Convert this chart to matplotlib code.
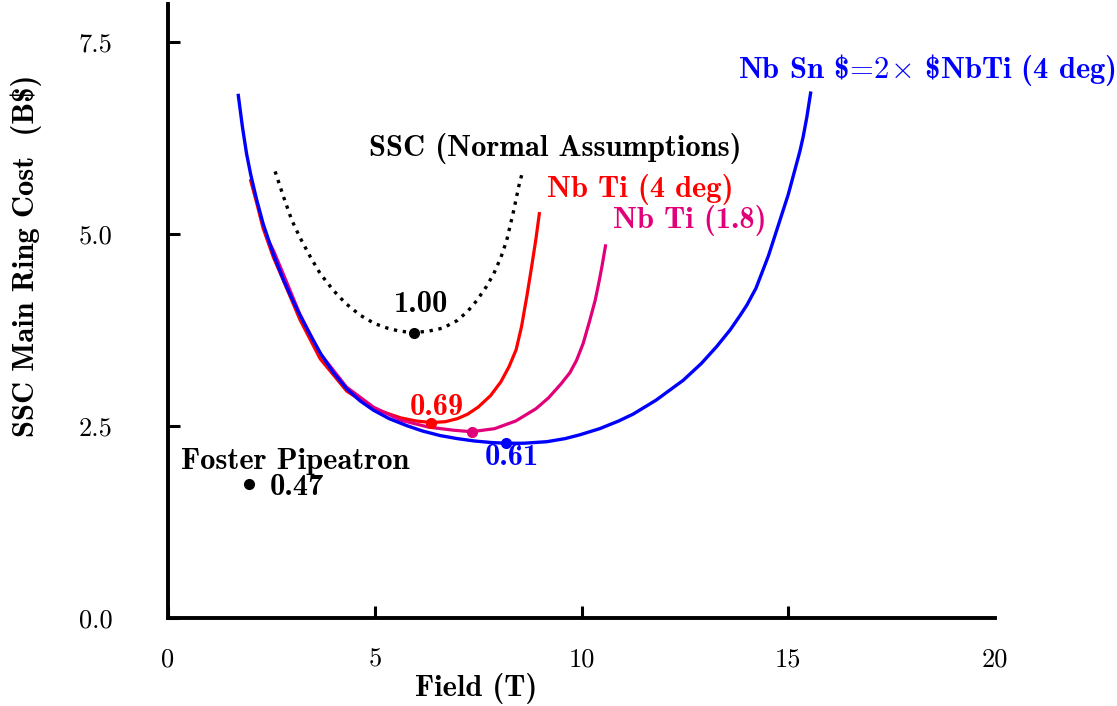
import matplotlib
matplotlib.use("Agg")
import matplotlib.pyplot as plt

plt.rcParams['mathtext.fontset'] = 'cm'
plt.rcParams['axes.formatter.use_mathtext'] = True

# Nb3Sn, cost = 2 x NbTi (4 deg)
nbsn_x = [1.70, 1.80, 1.90, 2.00, 2.14, 2.30, 2.55, 2.79, 3.00, 3.19, 3.45, 3.70, 4.00,
          4.32, 4.65, 4.97, 5.35, 5.77, 6.15, 6.58, 7.00, 7.40, 7.80, 8.17, 8.60, 9.16,
          9.60, 9.96, 10.44, 10.90, 11.25, 11.80, 12.46, 12.90, 13.27, 13.60, 13.83,
          14.00, 14.22, 14.52, 14.82, 15.00, 15.16, 15.28, 15.36, 15.45, 15.54]
nbsn_y = [6.81, 6.40, 6.05, 5.78, 5.46, 5.14, 4.74, 4.41, 4.16, 3.95, 3.68, 3.44, 3.20,
          2.99, 2.83, 2.71, 2.60, 2.51, 2.44, 2.38, 2.34, 2.31, 2.29, 2.28, 2.28, 2.30,
          2.34, 2.39, 2.47, 2.57, 2.66, 2.84, 3.10, 3.32, 3.54, 3.76, 3.94,
          4.08, 4.30, 4.72, 5.22, 5.52, 5.84, 6.08, 6.27, 6.53, 6.84]

# NbTi at 4 deg
nbti4_x = [2.00, 2.14, 2.30, 2.55, 2.79, 3.19, 3.68, 4.32, 4.97, 5.63, 6.00, 6.36,
           6.70, 7.00, 7.25, 7.50, 7.80, 8.05, 8.25, 8.42, 8.55, 8.68, 8.80, 8.90, 8.98]
nbti4_y = [5.70, 5.42, 5.08, 4.70, 4.40, 3.89, 3.38, 2.96, 2.73, 2.61, 2.57, 2.55,
           2.56, 2.60, 2.66, 2.75, 2.90, 3.08, 3.28, 3.50, 3.80, 4.20, 4.60, 4.95, 5.27]

# NbTi at 1.8 deg
nbti18_x = [2.40, 2.55, 2.79, 3.19, 3.68, 4.32, 4.97, 5.63, 6.30, 6.90, 7.34, 7.90, 8.41,
            8.90, 9.20, 9.50, 9.72, 9.88, 10.04, 10.20, 10.33, 10.43, 10.50, 10.58]
nbti18_y = [4.95, 4.79, 4.48, 3.96, 3.45, 3.01, 2.75, 2.58, 2.49, 2.45, 2.43, 2.47, 2.57,
            2.73, 2.87, 3.05, 3.20, 3.36, 3.58, 3.88, 4.14, 4.40, 4.60, 4.85]

# SSC, normal assumptions
ssc_x = [2.59, 2.80, 2.99, 3.19, 3.45, 3.68, 4.00, 4.30, 4.64, 4.99, 5.30, 5.60, 5.94,
         6.30, 6.65, 7.00, 7.25, 7.47, 7.70, 7.88, 8.05, 8.19, 8.36, 8.48, 8.58]
ssc_y = [5.82, 5.48, 5.19, 4.96, 4.70, 4.49, 4.27, 4.10, 3.95, 3.84, 3.78, 3.74, 3.72,
         3.74, 3.78, 3.88, 4.00, 4.14, 4.32, 4.49, 4.70, 4.92, 5.31, 5.62, 5.83]

# minimum points and their relative costs
min_x = [5.94, 6.36, 7.34, 8.17]
min_y = [3.72, 2.55, 2.43, 2.28]
min_labels = ['1.00', '0.69', None, '0.61']
foster_x, foster_y, foster_label = 1.96, 1.75, '0.47'

x_ticks = [0, 5, 10, 15, 20]
x_tick_labels = ['0', '5', '10', '15', '20']
y_ticks = [0, 2.5, 5.0, 7.5]
y_tick_labels = ['0.0', '2.5', '5.0', '7.5']

BLUE = '#0000ff'
RED = '#ff0000'
MAGENTA = '#e2007a'
RM = 'cmr10'
BF = 'cmb10'
FS = 19
FB = 22

fig = plt.figure(figsize=(11.17, 7.06), dpi=100)
ax = fig.add_axes([0.1504, 0.1242, 0.7404, 0.8701])

ax.plot(ssc_x, ssc_y, color='black', lw=2.4, linestyle=(0, (1, 1.7)))
ax.plot(nbti4_x, nbti4_y, color=RED, lw=2.3)
ax.plot(nbti18_x, nbti18_y, color=MAGENTA, lw=2.3)
ax.plot(nbsn_x, nbsn_y, color=BLUE, lw=2.4)

min_colors = ['black', RED, MAGENTA, BLUE]
for x, y, c in zip(min_x, min_y, min_colors):
    ax.plot(x, y, 'o', color=c, ms=7, zorder=5)
ax.plot(foster_x, foster_y, 'o', color='black', ms=7)

ax.text(6.12, 4.09, min_labels[0], fontsize=FB, family=BF, ha='center', va='center')
ax.text(6.51, 2.74, min_labels[1], fontsize=FB, family=BF, ha='center', va='center', color=RED)
ax.text(8.32, 2.09, min_labels[3], fontsize=FB, family=BF, ha='center', va='center', color=BLUE)
ax.text(2.47, 1.70, foster_label, fontsize=FB, family=BF, ha='left', va='center')
ax.text(3.07, 2.04, 'Foster Pipeatron', fontsize=FB, family=BF, ha='center', va='center')

ax.text(9.36, 6.12, 'SSC (Normal Assumptions)', fontsize=FB, family=BF, ha='center', va='center')
ax.text(11.43, 5.58, 'Nb Ti (4 deg)', fontsize=FB, family=BF, ha='center', va='center', color=RED)
ax.text(12.62, 5.18, 'Nb Ti (1.8)', fontsize=FB, family=BF, ha='center', va='center', color=MAGENTA)
ax.text(18.36, 7.14, r'Nb Sn \$$\!=\!2\!\times\!$ \$NbTi (4 deg)', fontsize=FB, family=BF,
        ha='center', va='center', color=BLUE)

ax.set_xlim(0, 20)
ax.set_ylim(0, 8)
ax.set_xticks(x_ticks)
ax.set_xticklabels(x_tick_labels, family=RM, fontsize=FS)
ax.set_yticks(y_ticks)
ax.set_yticklabels(y_tick_labels, family=RM, fontsize=FS)
ax.tick_params(direction='in', length=8.6, width=2.2, colors='black')
ax.tick_params(axis='x', pad=21)
ax.tick_params(axis='y', pad=40)
ax.xaxis.get_major_ticks()[-1].tick1line.set_visible(False)

for side in ['top', 'right']:
    ax.spines[side].set_visible(False)
for side in ['left', 'bottom']:
    ax.spines[side].set_linewidth(2.8)

fig.text(476 / 1117, 1 - 688 / 706, 'Field (T)', fontsize=FB, family=BF, ha='center', va='center')
fig.text(26 / 1117, 1 - 256 / 706, r'SSC Main Ring Cost  (B\$)', fontsize=FB, family=BF,
         ha='center', va='center', rotation=90)

fig.savefig('out.png', dpi=100)
